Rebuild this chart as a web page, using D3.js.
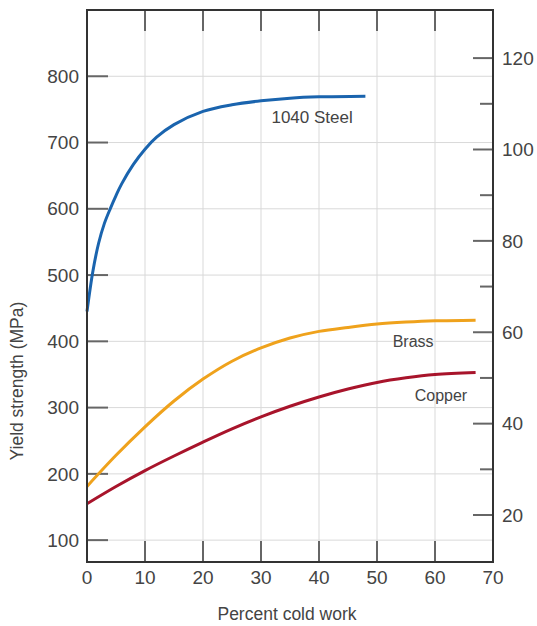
<!DOCTYPE html>
<html lang="en">
  <head>
    <meta charset="utf-8">
    <script src="https://cdn.jsdelivr.net/npm/d3@7/dist/d3.min.js"></script>
    <style>
      body {
        margin: 0;
        background: #fff;
      }
      svg text {
        font-family: 'Liberation Sans', Arial, sans-serif;
        fill: #444;
      }
      .grid line {
        stroke: #d9d9d9;
        stroke-width: 1;
      }
      .tick-mark {
        stroke: #666;
        stroke-width: 2;
      }
    </style>
  </head>
  <body>
    <svg></svg>
  </body>
  <script>

    // Data (yield strength in MPa vs percent cold work)
    const steel = [[0, 445], [1, 505], [2, 548], [3, 578], [4, 600], [5, 620], [6, 638], [8, 667],
      [10, 690], [12, 708], [15, 727], [20, 747], [25, 757], [30, 763], [35, 767], [40, 769], [48, 770]];
    const brass = [[0, 181], [5, 228], [10, 271], [15, 310], [20, 343], [25, 370], [30, 390],
      [35, 405], [40, 415], [45, 421], [50, 426], [55, 429], [60, 431], [67, 432]];
    const copper = [[0, 155], [5, 181], [10, 205], [15, 227], [20, 248], [25, 268], [30, 286],
      [35, 302], [40, 316], [45, 328], [50, 338], [55, 345], [60, 350], [67, 353]];

    const xTicks = [0, 10, 20, 30, 40, 50, 60, 70];
    const yTicks = [100, 200, 300, 400, 500, 600, 700, 800];
    const ksiMajor = [20, 40, 60, 80, 100, 120];
    const ksiMinor = [30, 50, 70, 90, 110];
    const MPA_PER_KSI = 6.895;

    const series = [
      { name: '1040 Steel', values: steel, color: '#1a64ae', label: [31.8, 730] },
      { name: 'Brass', values: brass, color: '#efa21c', label: [52.7, 392] },
      { name: 'Copper', values: copper, color: '#a8142b', label: [56.5, 310] }
    ];

    // Initialize svg
    const margin = { top: 10, right: 44, bottom: 64, left: 87 };
    const width = 406;
    const height = 552;
    const svg = d3.select('svg')
        .attr('width', 537)
        .attr('height', 626)
      .append('g')
        .attr('transform', 'translate(' + margin.left + ',' + margin.top + ')');

    const x = d3.scaleLinear().domain([0, 70]).range([0, width]);
    const y = d3.scaleLinear().domain([67, 900]).range([height, 0]);
    const yKsi = d3.scaleLinear()
        .domain(y.domain().map(v => v / MPA_PER_KSI))
        .range(y.range());

    // Grid
    const grid = svg.append('g').attr('class', 'grid');
    grid.selectAll('.vg')
        .data(xTicks.slice(1, -1))
      .enter().append('line')
        .attr('x1', d => x(d)).attr('x2', d => x(d))
        .attr('y1', 0).attr('y2', height);
    grid.selectAll('.hg')
        .data(yTicks)
      .enter().append('line')
        .attr('x1', 0).attr('x2', width)
        .attr('y1', d => y(d)).attr('y2', d => y(d));

    // Inner tick marks
    const ticks = svg.append('g');
    const tickLen = 21;
    ticks.selectAll('.tt')
        .data(xTicks.slice(1, -1))
      .enter().append('line')
        .attr('class', 'tick-mark')
        .attr('x1', d => x(d)).attr('x2', d => x(d))
        .attr('y1', 0).attr('y2', tickLen);
    ticks.selectAll('.bt')
        .data(xTicks.slice(1, -1))
      .enter().append('line')
        .attr('class', 'tick-mark')
        .attr('x1', d => x(d)).attr('x2', d => x(d))
        .attr('y1', height).attr('y2', height - tickLen);
    ticks.selectAll('.lt')
        .data(yTicks)
      .enter().append('line')
        .attr('class', 'tick-mark')
        .attr('x1', 0).attr('x2', tickLen)
        .attr('y1', d => y(d)).attr('y2', d => y(d));
    ticks.selectAll('.rt')
        .data(ksiMajor.map(v => [v, 20]).concat(ksiMinor.map(v => [v, 13])))
      .enter().append('line')
        .attr('class', 'tick-mark')
        .attr('x1', width).attr('x2', d => width - d[1])
        .attr('y1', d => yKsi(d[0])).attr('y2', d => yKsi(d[0]));

    // Tick labels
    svg.selectAll('.xl')
        .data(xTicks)
      .enter().append('text')
        .attr('x', d => x(d))
        .attr('y', height + 22)
        .attr('text-anchor', 'middle')
        .style('font-size', '19px')
        .text(d => d);
    svg.selectAll('.yl')
        .data(yTicks)
      .enter().append('text')
        .attr('x', -8)
        .attr('y', d => y(d))
        .attr('dy', '0.35em')
        .attr('text-anchor', 'end')
        .style('font-size', '19px')
        .text(d => d);
    svg.selectAll('.rl')
        .data(ksiMajor)
      .enter().append('text')
        .attr('x', width + 9)
        .attr('y', d => yKsi(d))
        .attr('dy', '0.35em')
        .style('font-size', '19px')
        .text(d => d);

    // Curves
    const line = d3.line()
        .x(d => x(d[0]))
        .y(d => y(d[1]))
        .curve(d3.curveCatmullRom.alpha(0.5));

    svg.selectAll('.curve')
        .data(series)
      .enter().append('path')
        .attr('d', d => line(d.values))
        .attr('fill', 'none')
        .attr('stroke', d => d.color)
        .attr('stroke-width', 3);

    svg.selectAll('.clabel')
        .data(series)
      .enter().append('text')
        .attr('x', d => x(d.label[0]))
        .attr('y', d => y(d.label[1]))
        .style('font-size', d => d.name === '1040 Steel' ? '17px' : '16px')
        .text(d => d.name);

    // Frame
    svg.append('rect')
        .attr('width', width)
        .attr('height', height)
        .attr('fill', 'none')
        .attr('stroke', '#333')
        .attr('stroke-width', 2);

    // Axis titles
    svg.append('text')
        .attr('x', width / 2 - 3)
        .attr('y', height + 58)
        .attr('text-anchor', 'middle')
        .style('font-size', '17.5px')
        .text('Percent cold work');
    svg.append('text')
        .attr('transform', 'translate(' + (-64) + ',' + (y(340)) + ') rotate(-90)')
        .attr('text-anchor', 'middle')
        .style('font-size', '17.5px')
        .text('Yield strength (MPa)');
  </script>
</html>
